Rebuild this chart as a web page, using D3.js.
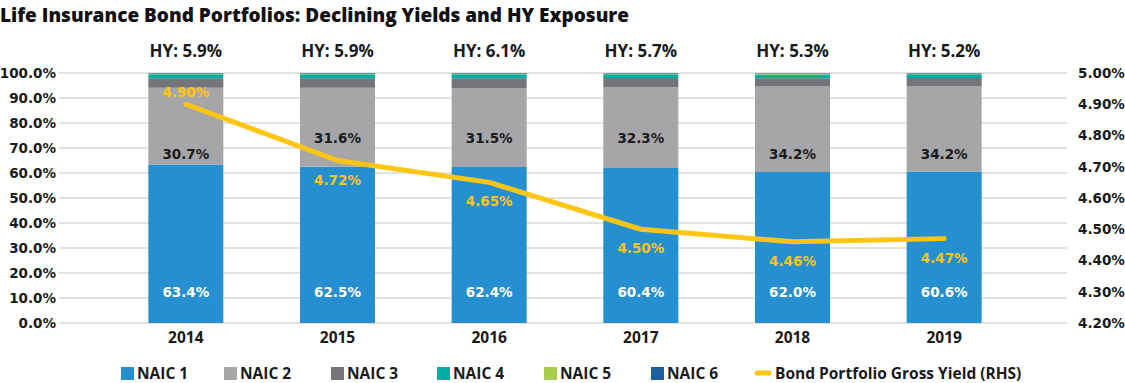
<!DOCTYPE html>
<html>
<head>
<meta charset="utf-8">
<script src="https://cdn.jsdelivr.net/npm/d3@7"></script>
<style>
  body { margin: 0; background: #fff; }
  svg { font-family: "Open Sans", sans-serif; font-weight: 700; }
  .num { font-family: "DejaVu Sans", sans-serif; font-weight: 700; font-size: 13.5px; }
</style>
</head>
<body>
<svg width="1125" height="383"></svg>
<script>
const years = ['2014', '2015', '2016', '2017', '2018', '2019']
const naic1 = [63.4, 62.5, 62.4, 62.0, 60.4, 60.6]
const naic2 = [30.7, 31.6, 31.5, 32.3, 34.2, 34.2]
const naic3 = [3.8, 3.8, 4.0, 3.7, 3.3, 3.2]
const naic4 = [1.6, 1.6, 1.6, 1.5, 1.5, 1.5]
const naic5 = [0.3, 0.3, 0.3, 0.3, 0.3, 0.3]
const naic6 = [0.2, 0.2, 0.2, 0.2, 0.2, 0.2]
// printed labels as they appear on the chart
const naic1Labels = ['63.4%', '62.5%', '62.4%', '60.4%', '62.0%', '60.6%']
const hyLabels = ['5.9%', '5.9%', '6.1%', '5.7%', '5.3%', '5.2%']
const grossYield = [4.90, 4.72, 4.65, 4.50, 4.46, 4.47]
const leftTicks = [0, 10, 20, 30, 40, 50, 60, 70, 80, 90, 100]
const rightTicks = [4.2, 4.3, 4.4, 4.5, 4.6, 4.7, 4.8, 4.9, 5.0]

const seriesNames = ['NAIC 1', 'NAIC 2', 'NAIC 3', 'NAIC 4', 'NAIC 5', 'NAIC 6']
const colors = ['#268fd0', '#a6a6a8', '#737578', '#00ada5', '#a6ce4a', '#1b5fa0']
const lineColor = '#ffc513'
const ink = '#1a1a1a'

const svg = d3.select('svg')
const plotLeft = 59
const plotRight = 1067
const plotTop = 73
const plotBottom = 323
const barW = 75

const x = d3.scalePoint().domain(years).range([110, 1020]).padding(0.5)
const y = d3.scaleLinear().domain([0, 100]).range([plotBottom, plotTop])
const yR = d3.scaleLinear().domain([4.2, 5.0]).range([plotBottom, plotTop])

// title
svg.append('text')
    .attr('x', 0).attr('y', 22)
    .style('font-size', '19px').style('font-weight', 800)
    .attr('fill', '#111')
    .text('Life Insurance Bond Portfolios: Declining Yields and HY Exposure')

// gridlines
svg.append('g').selectAll('line').data(leftTicks).join('line')
    .attr('x1', plotLeft).attr('x2', plotRight)
    .attr('y1', d => y(d)).attr('y2', d => y(d))
    .attr('stroke', '#d9d9d9').attr('stroke-width', 1.5)

// axes
const leftAxis = svg.append('g')
    .attr('transform', 'translate(56,0)')
    .call(d3.axisLeft(y).tickValues(leftTicks).tickFormat(d => d.toFixed(1) + '%').tickSize(0).tickPadding(0))
leftAxis.select('.domain').remove()
leftAxis.selectAll('text').attr('class', 'num').attr('font-family', null).attr('font-size', null).attr('fill', ink)

const rightAxis = svg.append('g')
    .attr('transform', 'translate(1078,0)')
    .call(d3.axisRight(yR).tickValues(rightTicks).tickFormat(d => d.toFixed(2) + '%').tickSize(0).tickPadding(0))
rightAxis.select('.domain').remove()
rightAxis.selectAll('text').attr('class', 'num').attr('fill', ink)
svg.selectAll('.tick text').attr('font-family', null).attr('font-size', null)
svg.selectAll('g').attr('font-family', null).attr('font-size', null)

// stacked bars
const table = years.map((yr, i) => ({
    year: yr, n1: naic1[i], n2: naic2[i], n3: naic3[i], n4: naic4[i], n5: naic5[i], n6: naic6[i]
}))
const keys = ['n1', 'n2', 'n3', 'n4', 'n5', 'n6']
const stacked = d3.stack().keys(keys)(table)

svg.append('g').selectAll('g').data(stacked).join('g')
    .attr('fill', (d, i) => colors[i])
    .selectAll('rect').data(d => d).join('rect')
    .attr('x', d => x(d.data.year) - barW / 2)
    .attr('width', barW)
    .attr('y', d => y(d[1]))
    .attr('height', d => y(d[0]) - y(d[1]))

// year labels
svg.append('g').selectAll('text').data(years).join('text')
    .attr('x', d => x(d)).attr('y', 343)
    .attr('text-anchor', 'middle')
    .style('font-size', '15.5px').attr('fill', ink)
    .text(d => d)

// HY labels
svg.append('g').selectAll('text').data(years).join('text')
    .attr('x', d => x(d)).attr('y', 57)
    .attr('text-anchor', 'middle')
    .style('font-size', '17px').attr('fill', ink)
    .text((d, i) => 'HY: ' + hyLabels[i])

// NAIC 1 labels
svg.append('g').selectAll('text').data(years).join('text')
    .attr('class', 'num')
    .attr('x', d => x(d)).attr('y', y(12.4) + 5)
    .attr('text-anchor', 'middle')
    .attr('fill', '#fff')
    .text((d, i) => naic1Labels[i])

// NAIC 2 labels (nudged up where the yield line crosses)
svg.append('g').selectAll('text').data(years).join('text')
    .attr('class', 'num')
    .attr('x', d => x(d))
    .attr('y', (d, i) => y(67.6) + 5 - (i >= 1 && i <= 3 ? 16 : 0))
    .attr('text-anchor', 'middle')
    .attr('fill', ink)
    .text((d, i) => naic2[i].toFixed(1) + '%')

// yield line
const line = d3.line()
    .x((d, i) => x(years[i]))
    .y(d => yR(d))
svg.append('path')
    .datum(grossYield)
    .attr('d', line)
    .attr('fill', 'none')
    .attr('stroke', lineColor)
    .attr('stroke-width', 5)
    .attr('stroke-linejoin', 'round')
    .attr('stroke-linecap', 'round')

svg.append('g').selectAll('text').data(grossYield).join('text')
    .attr('class', 'num')
    .attr('x', (d, i) => x(years[i]))
    .attr('y', (d, i) => i === 0 ? yR(d) - 7 : yR(d) + 24)
    .attr('text-anchor', 'middle')
    .attr('fill', lineColor)
    .text(d => d.toFixed(2) + '%')

// legend
const legendX = [121, 224, 331, 437, 544, 651]
const legend = svg.append('g')
legend.selectAll('rect').data(seriesNames).join('rect')
    .attr('x', (d, i) => legendX[i]).attr('y', 367)
    .attr('width', 13).attr('height', 13)
    .attr('fill', (d, i) => colors[i])
legend.selectAll('text').data(seriesNames).join('text')
    .attr('x', (d, i) => legendX[i] + 16).attr('y', 379)
    .style('font-size', '15.5px').attr('fill', ink)
    .text(d => d)
legend.append('line')
    .attr('x1', 757).attr('x2', 769).attr('y1', 373).attr('y2', 373)
    .attr('stroke', lineColor).attr('stroke-width', 5).attr('stroke-linecap', 'round')
legend.append('text')
    .attr('x', 775).attr('y', 379)
    .style('font-size', '15.5px').attr('fill', ink)
    .text('Bond Portfolio Gross Yield (RHS)')
</script>
</body>
</html>
